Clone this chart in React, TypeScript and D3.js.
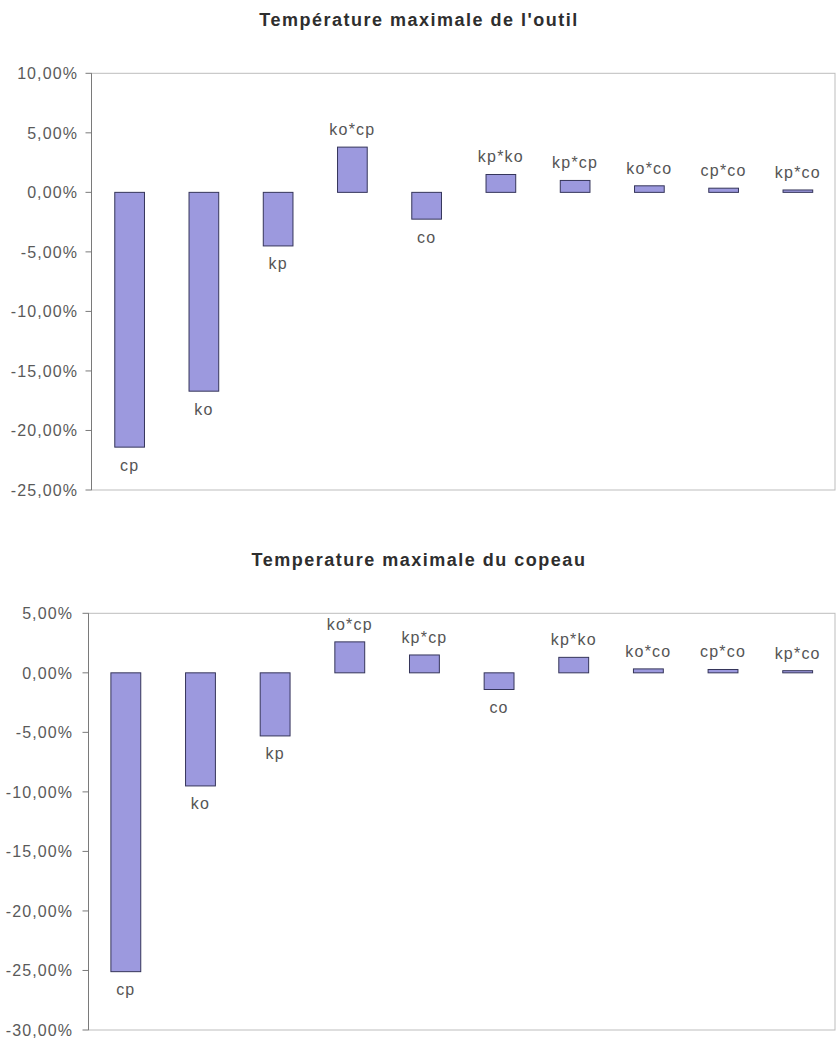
import React from "react";
import * as d3 from "d3";

// Effects on the maximum tool temperature (in %)
const toolCategories = ["cp", "ko", "kp", "ko*cp", "co", "kp*ko", "kp*cp", "ko*co", "cp*co", "kp*co"];
const toolEffects = [-21.4, -16.7, -4.5, 3.8, -2.25, 1.5, 1.0, 0.55, 0.35, 0.2];
const toolTicks = [-25, -20, -15, -10, -5, 0, 5, 10];

// Effects on the maximum chip temperature (in %)
const chipCategories = ["cp", "ko", "kp", "ko*cp", "kp*cp", "co", "kp*ko", "ko*co", "cp*co", "kp*co"];
const chipEffects = [-25.1, -9.5, -5.3, 2.6, 1.5, -1.4, 1.3, 0.33, 0.28, 0.18];
const chipTicks = [-30, -25, -20, -15, -10, -5, 0, 5];

const W = 837;
const H = 1039;
const FONT = "'Liberation Sans', Arial, Helvetica, sans-serif";

const frLocale = d3.formatLocale({
  decimal: ",",
  thousands: "\u00a0",
  grouping: [3],
  currency: ["", " €"],
  minus: "-",
});
const fmt = frLocale.format(".2f");
const pct = (v: number) => `${fmt(v)}%`;

type PanelProps = {
  title: string;
  titleY: number;
  categories: string[];
  values: number[];
  ticks: number[];
  top: number;
  bottom: number;
  axisX: number;
  bandLeft: number;
  right: number;
  labelRight: number;
};

function Panel(p: PanelProps) {
  const y = d3
    .scaleLinear()
    .domain([d3.min(p.ticks)!, d3.max(p.ticks)!])
    .range([p.bottom, p.top]);
  const x = d3
    .scaleBand<string>()
    .domain(p.categories)
    .range([p.bandLeft, p.right])
    .paddingInner(0.6)
    .paddingOuter(0.3);
  const data = p.categories.map((c, i) => ({ c, v: p.values[i] }));

  return (
    <g>
      <text
        x={419}
        y={p.titleY}
        textAnchor="middle"
        fontFamily={FONT}
        fontWeight="bold"
        fontSize={18}
        letterSpacing={1.5}
        fill="#2e2e2e"
      >
        {p.title}
      </text>

      {/* plot frame */}
      <rect
        x={p.axisX}
        y={p.top}
        width={p.right - p.axisX}
        height={p.bottom - p.top}
        fill="none"
        stroke="#bdbdbd"
        strokeWidth={1}
      />
      {/* value axis */}
      <line x1={p.axisX} x2={p.axisX} y1={p.top} y2={p.bottom} stroke="#7a7a7a" strokeWidth={1} />
      {p.ticks.map((t) => (
        <g key={t}>
          <line x1={p.axisX - 6} x2={p.axisX} y1={y(t)} y2={y(t)} stroke="#7a7a7a" strokeWidth={1} />
          <text
            x={p.labelRight}
            y={y(t) + 6}
            textAnchor="end"
            fontFamily={FONT}
            fontSize={16}
            letterSpacing={1.1}
            fill="#5a5a5a"
          >
            {pct(t)}
          </text>
        </g>
      ))}

      {/* effect bars */}
      {data.map((d) => {
        const y0 = y(0);
        const yv = y(d.v);
        const yTop = Math.min(y0, yv);
        const h = Math.abs(yv - y0);
        const cx = x(d.c)! + x.bandwidth() / 2;
        return (
          <g key={d.c}>
            <rect
              x={x(d.c)!}
              y={yTop}
              width={x.bandwidth()}
              height={h}
              fill="#9c99de"
              stroke="#35355a"
              strokeWidth={1}
            />
            <text
              x={cx}
              y={d.v >= 0 ? yv - 12 : yv + 23.5}
              textAnchor="middle"
              fontFamily={FONT}
              fontSize={16}
              letterSpacing={1.2}
              fill="#555555"
            >
              {d.c}
            </text>
          </g>
        );
      })}
    </g>
  );
}

export default function App() {
  return (
    <svg
      width={W}
      height={H}
      viewBox={`0 0 ${W} ${H}`}
      style={{ position: "absolute", left: 0, top: 0, display: "block", background: "#ffffff" }}
    >
      <rect x={0} y={0} width={W} height={H} fill="#ffffff" />
      <Panel
        title="Température maximale de l'outil"
        titleY={26}
        categories={toolCategories}
        values={toolEffects}
        ticks={toolTicks}
        top={73.3}
        bottom={490}
        axisX={91.5}
        bandLeft={92.5}
        right={835}
        labelRight={78}
      />
      <Panel
        title="Temperature maximale du copeau"
        titleY={566}
        categories={chipCategories}
        values={chipEffects}
        ticks={chipTicks}
        top={613.3}
        bottom={1030}
        axisX={88.5}
        bandLeft={88.5}
        right={835}
        labelRight={73}
      />
    </svg>
  );
}
